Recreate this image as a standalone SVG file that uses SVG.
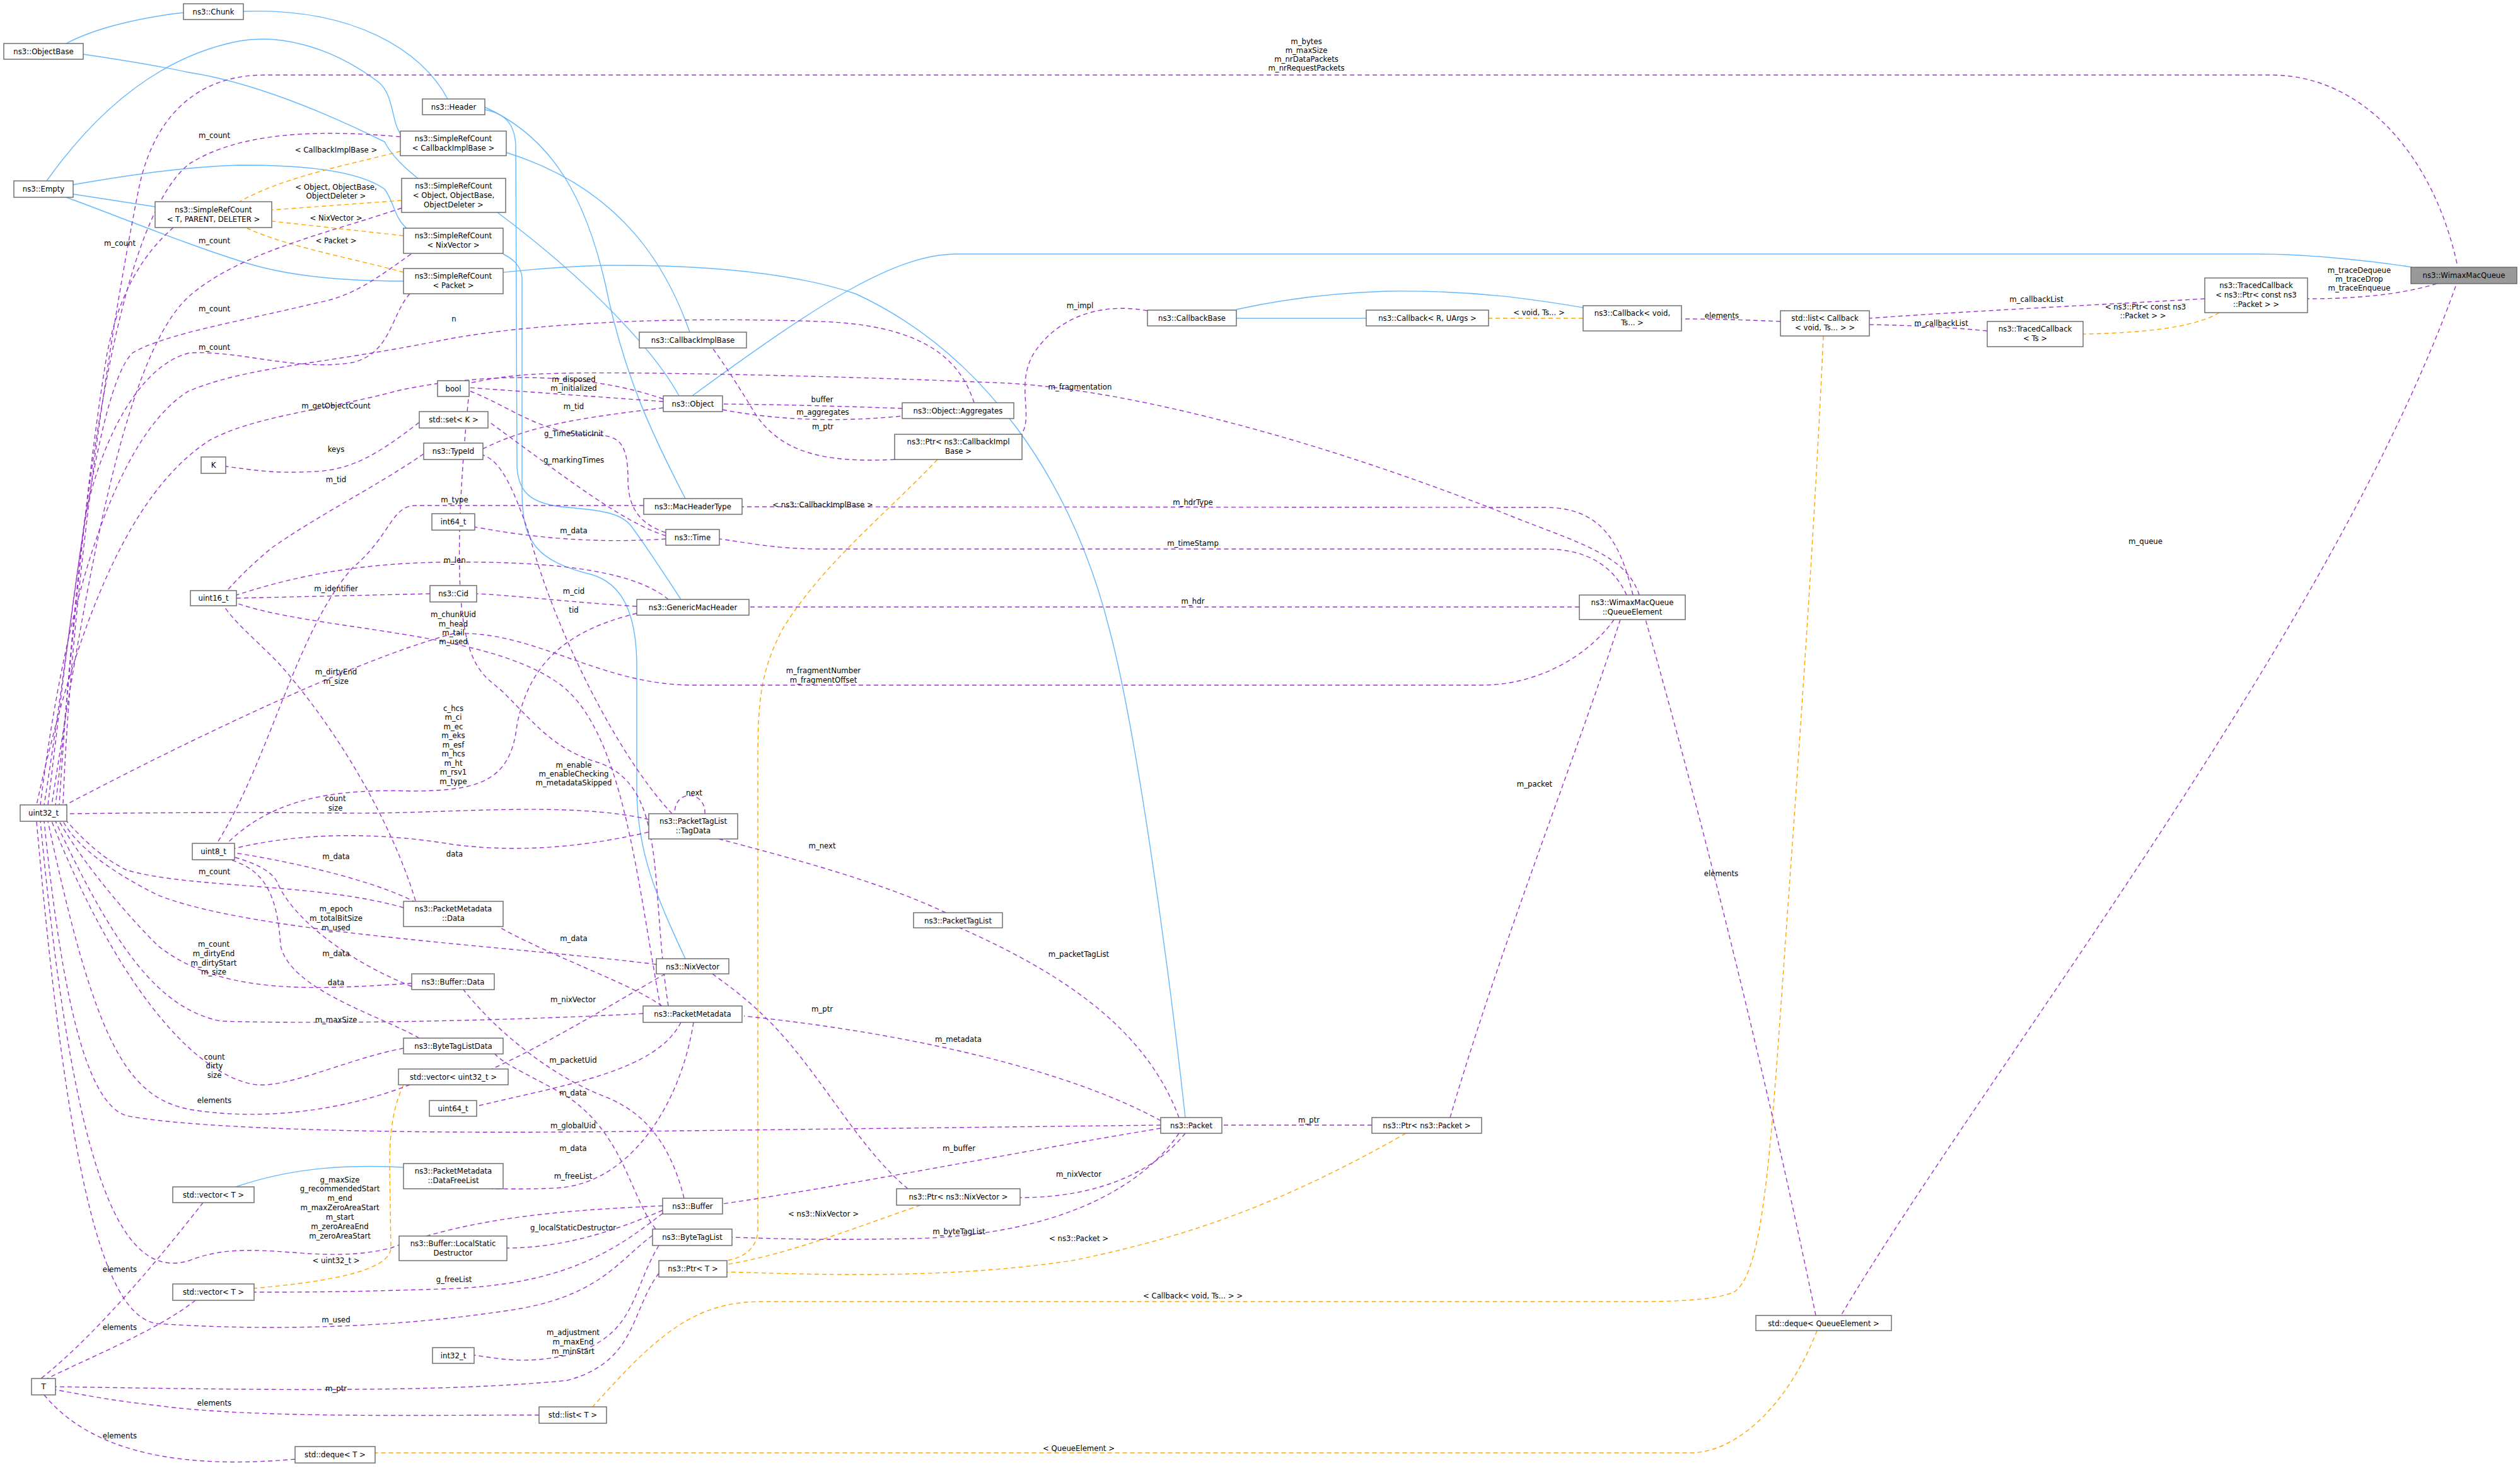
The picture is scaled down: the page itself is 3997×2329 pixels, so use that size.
<svg xmlns="http://www.w3.org/2000/svg" width="3997" height="2329" viewBox="0 0 3997 2329">
<style>
text{font-family:"DejaVu Sans Condensed","DejaVu Sans",sans-serif;font-size:13px;text-anchor:middle;fill:#000}
.n rect{fill:#fff;stroke:#666;stroke-width:1.4}
.n rect.g{fill:#999}
path{fill:none;stroke-width:1.4}
.m{stroke:#9a32cd;stroke-dasharray:7,5;marker-end:url(#am)}
.t{stroke:#ffa500;stroke-dasharray:7,5;marker-end:url(#at)}
.i{stroke:#63b8ff;marker-end:url(#ai)}
</style>
<defs>
<marker id="am" viewBox="0 0 10 10" refX="10" refY="5" markerWidth="12" markerHeight="12" markerUnits="userSpaceOnUse" orient="auto"><path d="M0,0L10,5L0,10z" fill="#9a32cd" stroke="none"/></marker>
<marker id="at" viewBox="0 0 10 10" refX="10" refY="5" markerWidth="12" markerHeight="12" markerUnits="userSpaceOnUse" orient="auto"><path d="M0,0L10,5L0,10z" fill="#ffa500" stroke="none"/></marker>
<marker id="ai" viewBox="0 0 10 10" refX="10" refY="5" markerWidth="12" markerHeight="12" markerUnits="userSpaceOnUse" orient="auto"><path d="M0,0L10,5L0,10z" fill="#63b8ff" stroke="none"/></marker>
</defs>
<g id="edges">
<!-- inheritance -->
<path class="i" d="M291,20 C220,28 150,45 105,69"/>
<path class="i" d="M710,157 C670,80 560,12 386,18"/>
<path class="i" d="M635,212 C620,190 625,150 600,130 C520,70 440,55 380,65 C250,90 150,180 74,287"/>
<path class="i" d="M663,283 C640,265 620,245 610,225 C520,180 400,130 300,115 C230,100 170,92 132,86"/>
<path class="i" d="M645,362 C625,345 625,320 610,300 C560,265 450,262 380,262 C280,265 180,282 116,293"/>
<path class="i" d="M246,328 L116,308"/>
<path class="i" d="M640,446 C560,446 470,440 400,420 C300,390 180,340 105,313"/>
<path class="i" d="M1094,527 C1060,430 990,300 803,242"/>
<path class="i" d="M1077,628 C1040,560 940,450 789,337"/>
<path class="i" d="M1087,1521 C1040,1420 1010,1350 1010,1250 L1010,1050 C1008,960 980,925 940,912 C850,890 828,860 828,780 L828,440 C826,420 812,410 798,403"/>
<path class="i" d="M1080,951 C1040,890 1020,860 1005,840 C990,815 960,810 900,805 C840,800 822,780 820,740 L818,230 C816,195 800,180 769,174"/>
<path class="i" d="M1087,791 C1040,700 990,600 960,450 C930,320 880,220 769,170"/>
<path class="i" d="M1880,1773 C1850,1500 1800,1150 1760,1000 C1700,760 1560,560 1357,466 C1250,430 1100,420 960,421 C880,423 840,428 799,432"/>
<path class="i" d="M3826,424 C3750,412 3650,403 3581,403 L1518,403 C1420,403 1300,480 1098,628"/>
<path class="i" d="M2167,505 L1961,505"/>
<path class="i" d="M2511,488 C2450,478 2350,460 2200,462 C2100,465 2020,478 1961,491"/>
<path class="i" d="M640,1852 C560,1848 470,1850 374,1883"/>
<!-- templates -->
<path class="t" d="M635,240 C560,260 450,280 380,320"/>
<path class="t" d="M637,318 L432,333"/>
<path class="t" d="M640,374 L432,351"/>
<path class="t" d="M640,432 C560,410 450,390 392,362"/>
<path class="t" d="M2511,505 L2361,505"/>
<path class="t" d="M3520,496 C3480,520 3400,528 3304,530"/>
<path class="t" d="M2892,533 C2880,800 2860,1100 2835,1450 C2810,1800 2800,2020 2750,2050 C2720,2063 2650,2065 2601,2065 L1208,2065 C1100,2065 1040,2120 940,2232"/>
<path class="t" d="M2882,2111 C2840,2220 2760,2305 2680,2305 L595,2305"/>
<path class="t" d="M1460,1912 C1350,1950 1250,1990 1153,2006"/>
<path class="t" d="M2230,1798 C2050,1900 1900,1960 1700,2000 C1500,2030 1300,2022 1153,2018"/>
<path class="t" d="M1487,729 C1400,820 1300,900 1240,1000 C1210,1060 1202,1100 1202,1200 L1202,1950 C1202,1980 1180,1995 1153,2000"/>
<path class="t" d="M640,1721 C622,1760 618,1800 618,1850 L620,1980 C618,2020 500,2035 403,2044"/>
<!-- members into uint32_t top -->
<path class="m" d="M3897,418 C3860,250 3750,119 3602,119 L420,119 C300,119 240,200 220,300 C160,600 110,1000 100,1277"/>
<path class="m" d="M635,217 C500,205 380,210 300,260 C200,340 130,700 94,1277"/>
<path class="m" d="M275,361 C230,400 190,460 170,560 C130,800 110,1100 88,1277"/>
<path class="m" d="M637,330 C520,370 380,400 300,470 C200,560 140,900 82,1277"/>
<path class="m" d="M652,403 C600,440 560,470 505,480 C380,510 260,530 210,560 C150,620 110,1000 76,1277"/>
<path class="m" d="M650,466 C620,500 620,560 560,575 C470,590 380,555 300,560 C220,580 160,700 135,820 C110,1000 90,1150 70,1277"/>
<path class="m" d="M1545,639 C1520,560 1450,515 1300,510 C1000,500 800,520 700,540 C500,580 400,580 300,620 C200,680 110,900 64,1277"/>
<path class="m" d="M1052,633 C900,580 720,600 630,620 C520,650 400,660 330,700 C240,760 140,900 58,1277"/>
<path class="m" d="M2560,983 C2520,1040 2440,1087 2350,1087 L1100,1087 C950,1087 850,1000 720,1005 C550,1050 250,1200 100,1279"/>
<path class="m" d="M1029,1300 C900,1270 700,1292 550,1290 C350,1288 200,1290 106,1291"/>
<!-- members into uint32_t bottom -->
<path class="m" d="M640,1440 C500,1400 300,1410 200,1380 C160,1360 130,1330 106,1303"/>
<path class="m" d="M1041,1530 C800,1500 400,1480 250,1420 C170,1380 120,1340 100,1303"/>
<path class="m" d="M653,1560 C500,1570 350,1580 250,1500 C180,1430 120,1350 94,1303"/>
<path class="m" d="M1020,1608 C800,1620 500,1625 350,1620 C250,1600 180,1500 88,1303"/>
<path class="m" d="M640,1663 C550,1680 450,1730 400,1720 C300,1700 180,1550 82,1303"/>
<path class="m" d="M650,1721 C550,1760 420,1780 300,1760 C200,1740 150,1650 76,1303"/>
<path class="m" d="M1841,1785 L1000,1795 C600,1800 300,1790 200,1770 C140,1750 100,1600 70,1303"/>
<path class="m" d="M1051,1913 C900,1920 750,1930 620,1980 C500,2010 400,1960 300,2000 C200,2030 120,1900 64,1303"/>
<path class="m" d="M1035,1960 C980,2000 950,2060 800,2080 C600,2110 400,2110 250,2100 C170,2090 110,1900 58,1303"/>
<!-- other members -->
<path class="m" d="M3865,450 C3800,470 3720,474 3660,474"/>
<path class="m" d="M3895,454 C3700,1000 3150,1700 2920,2087"/>
<path class="m" d="M3497,474 C3300,485 3100,495 2965,505"/>
<path class="m" d="M3152,525 C3080,518 3020,516 2965,515"/>
<path class="m" d="M2824,510 C2760,507 2710,506 2667,506"/>
<path class="m" d="M1820,493 C1750,480 1680,500 1640,560 C1610,610 1640,660 1620,689"/>
<path class="m" d="M1419,729 C1300,735 1240,715 1200,660 C1170,610 1150,580 1130,552"/>
<path class="m" d="M1146,650 C1250,670 1350,668 1431,660"/>
<path class="m" d="M1431,648 C1350,645 1250,642 1146,641"/>
<path class="m" d="M1052,637 L744,615"/>
<path class="m" d="M1052,647 C950,660 850,670 766,712"/>
<path class="m" d="M2600,944 C2580,880 2500,860 2400,820 C2100,700 1800,620 1600,608 C1300,595 1000,590 900,592 C820,593 780,600 744,608"/>
<path class="m" d="M2590,944 C2570,860 2540,805 2450,805 L1177,804"/>
<path class="m" d="M2580,944 C2560,900 2520,871 2450,871 L1300,871 C1230,871 1180,860 1141,855"/>
<path class="m" d="M2505,963 L1188,963"/>
<path class="m" d="M2570,983 C2500,1200 2380,1500 2300,1773"/>
<path class="m" d="M2880,2087 C2800,1700 2700,1300 2610,983"/>
<path class="m" d="M1056,845 C1010,830 996,800 996,760 C996,700 980,690 940,690 C860,690 800,640 744,620"/>
<path class="m" d="M1056,850 C990,830 900,760 774,668"/>
<path class="m" d="M1066,1291 C980,1200 880,1000 840,850 C810,760 790,730 766,722"/>
<path class="m" d="M665,670 C600,720 560,745 500,748 C430,752 400,745 358,740"/>
<path class="m" d="M672,720 C600,770 500,820 430,870 C400,895 380,915 360,937"/>
<path class="m" d="M1021,802 L660,802 C620,802 620,850 560,900 C470,1000 430,1200 344,1338"/>
<path class="m" d="M1056,855 C980,860 880,860 753,836"/>
<path class="m" d="M1060,951 C1000,900 850,890 700,892 C550,894 450,920 375,944"/>
<path class="m" d="M682,942 L375,949"/>
<path class="m" d="M1010,962 C900,955 820,945 756,942"/>
<path class="m" d="M1010,973 C900,1000 840,1050 820,1150 C810,1240 760,1255 650,1255 C500,1250 420,1280 360,1338"/>
<path class="m" d="M1050,1610 C1010,1400 990,1150 880,1080 C760,1000 500,1000 375,957"/>
<path class="m" d="M659,1429 C620,1300 530,1150 440,1050 C400,1010 370,985 355,961"/>
<path class="m" d="M1060,1596 C1030,1400 1060,1250 950,1210 C880,1190 850,1150 800,1100 C760,1060 700,1070 744,622"/>
<path class="m" d="M1029,1320 C900,1350 800,1350 720,1340 C600,1320 480,1320 372,1346"/>
<path class="m" d="M660,1432 C600,1400 480,1370 372,1353"/>
<path class="m" d="M653,1565 C540,1520 460,1450 440,1400 C430,1380 400,1368 372,1360"/>
<path class="m" d="M665,1647 C600,1610 460,1570 445,1500 C440,1420 420,1380 365,1364"/>
<path class="m" d="M1500,1448 C1400,1400 1250,1360 1140,1331"/>
<path class="m" d="M1118,1291 C1120,1255 1070,1250 1070,1291"/>
<path class="m" d="M1870,1773 C1820,1640 1700,1550 1520,1471"/>
<path class="m" d="M1841,1778 C1700,1700 1450,1640 1180,1612"/>
<path class="m" d="M1841,1790 C1600,1830 1350,1880 1146,1910"/>
<path class="m" d="M1880,1798 C1830,1860 1740,1900 1618,1900"/>
<path class="m" d="M1870,1798 C1800,1900 1650,1960 1450,1965 C1300,1968 1230,1965 1161,1963"/>
<path class="m" d="M2176,1785 L1938,1785"/>
<path class="m" d="M1440,1886 C1360,1820 1300,1700 1220,1620 C1180,1580 1150,1560 1130,1545"/>
<path class="m" d="M1055,1545 C960,1600 860,1660 780,1696"/>
<path class="m" d="M1080,1622 C1040,1700 900,1720 756,1755"/>
<path class="m" d="M1050,1596 C1000,1560 880,1520 790,1470"/>
<path class="m" d="M1100,1622 C1080,1750 1000,1880 880,1885 C830,1887 800,1886 780,1886"/>
<path class="m" d="M1085,1901 C1060,1800 1010,1760 960,1740 C880,1710 790,1640 735,1570"/>
<path class="m" d="M1051,1920 C960,1960 880,1980 804,1980"/>
<path class="m" d="M1051,1925 C980,1980 900,2040 700,2045 C550,2050 470,2050 403,2050"/>
<path class="m" d="M1040,1950 C1000,1900 990,1800 900,1740 C850,1710 800,1690 785,1672"/>
<path class="m" d="M1045,1976 C1000,2050 1010,2120 900,2150 C830,2165 790,2155 752,2150"/>
<path class="m" d="M1045,2020 C1000,2080 1010,2160 900,2190 C700,2210 400,2205 88,2200"/>
<path class="m" d="M855,2245 C650,2245 400,2250 250,2230 C160,2220 120,2210 88,2205"/>
<path class="m" d="M322,1908 C250,2000 150,2120 65,2187"/>
<path class="m" d="M310,2063 C250,2110 150,2150 75,2187"/>
<path class="m" d="M468,2315 C300,2330 150,2310 70,2213"/>
</g>
<g id="labels">
<text x="2072" y="70">m_bytes</text><text x="2072" y="84">m_maxSize</text><text x="2072" y="98">m_nrDataPackets</text><text x="2072" y="112">m_nrRequestPackets</text>
<text x="340" y="219">m_count</text>
<text x="533" y="242">&lt; CallbackImplBase &gt;</text>
<text x="533" y="301">&lt; Object, ObjectBase,</text><text x="533" y="315">ObjectDeleter &gt;</text>
<text x="533" y="350">&lt; NixVector &gt;</text>
<text x="190" y="390">m_count</text>
<text x="340" y="386">m_count</text>
<text x="533" y="386">&lt; Packet &gt;</text>
<text x="340" y="494">m_count</text>
<text x="720" y="510">n</text>
<text x="340" y="555">m_count</text>
<text x="533" y="648">m_getObjectCount</text>
<text x="910" y="606">m_disposed</text><text x="910" y="620">m_initialized</text>
<text x="910" y="649">m_tid</text>
<text x="910" y="692">g_TimeStaticInit</text>
<text x="910" y="734">g_markingTimes</text>
<text x="533" y="717">keys</text>
<text x="533" y="765">m_tid</text>
<text x="721" y="797">m_type</text>
<text x="910" y="846">m_data</text>
<text x="721" y="893">m_len</text>
<text x="533" y="938">m_identifier</text>
<text x="910" y="942">m_cid</text>
<text x="910" y="972">tid</text>
<text x="719" y="979">m_chunkUid</text><text x="719" y="994">m_head</text><text x="719" y="1008">m_tail</text><text x="719" y="1022">m_used</text>
<text x="533" y="1070">m_dirtyEnd</text><text x="533" y="1085">m_size</text>
<text x="719" y="1128">c_hcs</text><text x="719" y="1142">m_ci</text><text x="719" y="1157">m_ec</text><text x="719" y="1171">m_eks</text><text x="719" y="1186">m_esf</text><text x="719" y="1200">m_hcs</text><text x="719" y="1215">m_ht</text><text x="719" y="1229">m_rsv1</text><text x="719" y="1244">m_type</text>
<text x="910" y="1218">m_enable</text><text x="910" y="1232">m_enableChecking</text><text x="910" y="1246">m_metadataSkipped</text>
<text x="532" y="1271">count</text><text x="532" y="1286">size</text>
<text x="721" y="1359">data</text>
<text x="533" y="1363">m_data</text>
<text x="340" y="1387">m_count</text>
<text x="533" y="1446">m_epoch</text><text x="533" y="1461">m_totalBitSize</text><text x="533" y="1476">m_used</text>
<text x="910" y="1493">m_data</text>
<text x="339" y="1502">m_count</text><text x="339" y="1517">m_dirtyEnd</text><text x="339" y="1532">m_dirtyStart</text><text x="339" y="1546">m_size</text>
<text x="533" y="1517">m_data</text>
<text x="533" y="1563">data</text>
<text x="909" y="1590">m_nixVector</text>
<text x="533" y="1622">m_maxSize</text>
<text x="340" y="1681">count</text><text x="340" y="1695">dirty</text><text x="340" y="1710">size</text>
<text x="909" y="1686">m_packetUid</text>
<text x="909" y="1738">m_data</text>
<text x="340" y="1750">elements</text>
<text x="909" y="1790">m_globalUid</text>
<text x="909" y="1826">m_data</text>
<text x="909" y="1870">m_freeList</text>
<text x="539" y="1876">g_maxSize</text><text x="539" y="1890">g_recommendedStart</text><text x="539" y="1905">m_end</text><text x="539" y="1920">m_maxZeroAreaStart</text><text x="539" y="1935">m_start</text><text x="539" y="1950">m_zeroAreaEnd</text><text x="539" y="1965">m_zeroAreaStart</text>
<text x="909" y="1952">g_localStaticDestructor</text>
<text x="190" y="2018">elements</text>
<text x="533" y="2004">&lt; uint32_t &gt;</text>
<text x="720" y="2034">g_freeList</text>
<text x="533" y="2098">m_used</text>
<text x="190" y="2110">elements</text>
<text x="909" y="2118">m_adjustment</text><text x="909" y="2133">m_maxEnd</text><text x="909" y="2148">m_minStart</text>
<text x="533" y="2207">m_ptr</text>
<text x="340" y="2230">elements</text>
<text x="190" y="2282">elements</text>
<text x="1304" y="638">buffer</text>
<text x="1305" y="658">m_aggregates</text>
<text x="1305" y="681">m_ptr</text>
<text x="1713" y="489">m_impl</text>
<text x="1713" y="618">m_fragmentation</text>
<text x="1305" y="805">&lt; ns3::CallbackImplBase &gt;</text>
<text x="1892" y="801">m_hdrType</text>
<text x="1892" y="866">m_timeStamp</text>
<text x="1892" y="958">m_hdr</text>
<text x="1306" y="1068">m_fragmentNumber</text><text x="1306" y="1083">m_fragmentOffset</text>
<text x="1101" y="1262">next</text>
<text x="1304" y="1346">m_next</text>
<text x="1711" y="1518">m_packetTagList</text>
<text x="1304" y="1605">m_ptr</text>
<text x="1520" y="1653">m_metadata</text>
<text x="2076" y="1781">m_ptr</text>
<text x="1521" y="1826">m_buffer</text>
<text x="1711" y="1867">m_nixVector</text>
<text x="1306" y="1930">&lt; ns3::NixVector &gt;</text>
<text x="1521" y="1958">m_byteTagList</text>
<text x="1711" y="1969">&lt; ns3::Packet &gt;</text>
<text x="1892" y="2060">&lt; Callback&lt; void, Ts... &gt; &gt;</text>
<text x="1711" y="2302">&lt; QueueElement &gt;</text>
<text x="2434" y="1248">m_packet</text>
<text x="2730" y="1390">elements</text>
<text x="3403" y="863">m_queue</text>
<text x="2441" y="500">&lt; void, Ts... &gt;</text>
<text x="2731" y="505">elements</text>
<text x="3079" y="517">m_callbackList</text>
<text x="3230" y="479">m_callbackList</text>
<text x="3403" y="491">&lt; ns3::Ptr&lt; const ns3</text><text x="3399" y="505">::Packet &gt; &gt;</text>
<text x="3742" y="433">m_traceDequeue</text><text x="3742" y="447">m_traceDrop</text><text x="3742" y="461">m_traceEnqueue</text>
</g>
<g id="Chunk" class="n"><rect x="291" y="6" width="95" height="25"/><text x="338.5" y="23">ns3::Chunk</text></g>
<g id="ObjectBase" class="n"><rect x="6" y="69" width="126" height="25"/><text x="69" y="86">ns3::ObjectBase</text></g>
<g id="Header" class="n"><rect x="670" y="157" width="99" height="25"/><text x="719.5" y="174">ns3::Header</text></g>
<g id="SRC_CIB" class="n"><rect x="635" y="208" width="168" height="39"/><text x="719" y="224">ns3::SimpleRefCount</text><text x="719" y="239">&lt; CallbackImplBase &gt;</text></g>
<g id="Empty" class="n"><rect x="22" y="287" width="94" height="26"/><text x="69" y="304">ns3::Empty</text></g>
<g id="SRC_TPD" class="n"><rect x="246" y="320" width="185" height="41"/><text x="338.5" y="337">ns3::SimpleRefCount</text><text x="338.5" y="352">&lt; T, PARENT, DELETER &gt;</text></g>
<g id="SRC_Obj" class="n"><rect x="637" y="283" width="165" height="54"/><text x="719.5" y="299">ns3::SimpleRefCount</text><text x="719.5" y="314">&lt; Object, ObjectBase,</text><text x="719.5" y="329">ObjectDeleter &gt;</text></g>
<g id="SRC_Nix" class="n"><rect x="640" y="362" width="158" height="40"/><text x="719" y="378">ns3::SimpleRefCount</text><text x="719" y="393">&lt; NixVector &gt;</text></g>
<g id="SRC_Pkt" class="n"><rect x="640" y="426" width="158" height="40"/><text x="719" y="442">ns3::SimpleRefCount</text><text x="719" y="457">&lt; Packet &gt;</text></g>
<g id="CallbackImplBase" class="n"><rect x="1014" y="527" width="170" height="25"/><text x="1099" y="544">ns3::CallbackImplBase</text></g>
<g id="Object" class="n"><rect x="1052" y="628" width="94" height="25"/><text x="1099" y="645">ns3::Object</text></g>
<g id="Aggregates" class="n"><rect x="1431" y="639" width="177" height="25"/><text x="1519.5" y="656">ns3::Object::Aggregates</text></g>
<g id="PtrCIB" class="n"><rect x="1419" y="689" width="202" height="40"/><text x="1520" y="705">ns3::Ptr&lt; ns3::CallbackImpl</text><text x="1520" y="720">Base &gt;</text></g>
<g id="CallbackBase" class="n"><rect x="1820" y="492" width="141" height="25"/><text x="1890.5" y="509">ns3::CallbackBase</text></g>
<g id="CallbackRU" class="n"><rect x="2167" y="492" width="194" height="25"/><text x="2264" y="509">ns3::Callback&lt; R, UArgs &gt;</text></g>
<g id="CallbackVoid" class="n"><rect x="2511" y="485" width="156" height="40"/><text x="2589" y="501">ns3::Callback&lt; void,</text><text x="2589" y="516">Ts... &gt;</text></g>
<g id="ListCallback" class="n"><rect x="2824" y="493" width="141" height="40"/><text x="2894.5" y="509">std::list&lt; Callback</text><text x="2894.5" y="524">&lt; void, Ts... &gt; &gt;</text></g>
<g id="TracedTs" class="n"><rect x="3152" y="510" width="152" height="40"/><text x="3228" y="526">ns3::TracedCallback</text><text x="3228" y="541">&lt; Ts &gt;</text></g>
<g id="TracedPtr" class="n"><rect x="3497" y="441" width="163" height="55"/><text x="3578.5" y="457">ns3::TracedCallback</text><text x="3578.5" y="472">&lt; ns3::Ptr&lt; const ns3</text><text x="3578.5" y="487">::Packet &gt; &gt;</text></g>
<g id="WimaxMacQueue" class="n"><rect class="g" x="3824" y="424" width="168" height="26"/><text x="3908" y="441">ns3::WimaxMacQueue</text></g>
<g id="bool" class="n"><rect x="694" y="604" width="50" height="25"/><text x="719" y="621">bool</text></g>
<g id="setK" class="n"><rect x="665" y="653" width="109" height="26"/><text x="719.5" y="670">std::set&lt; K &gt;</text></g>
<g id="TypeId" class="n"><rect x="672" y="703" width="94" height="26"/><text x="719" y="720">ns3::TypeId</text></g>
<g id="K" class="n"><rect x="319" y="725" width="39" height="26"/><text x="338.5" y="742">K</text></g>
<g id="MacHeaderType" class="n"><rect x="1021" y="791" width="156" height="25"/><text x="1099" y="808">ns3::MacHeaderType</text></g>
<g id="int64" class="n"><rect x="685" y="815" width="68" height="26"/><text x="719" y="832">int64_t</text></g>
<g id="Time" class="n"><rect x="1056" y="840" width="85" height="25"/><text x="1098.5" y="857">ns3::Time</text></g>
<g id="Cid" class="n"><rect x="682" y="929" width="74" height="26"/><text x="719" y="946">ns3::Cid</text></g>
<g id="uint16" class="n"><rect x="302" y="937" width="73" height="24"/><text x="338.5" y="953">uint16_t</text></g>
<g id="GenericMacHeader" class="n"><rect x="1010" y="951" width="178" height="25"/><text x="1099" y="968">ns3::GenericMacHeader</text></g>
<g id="QueueElement" class="n"><rect x="2505" y="944" width="168" height="39"/><text x="2589" y="960">ns3::WimaxMacQueue</text><text x="2589" y="975">::QueueElement</text></g>
<g id="uint32" class="n"><rect x="32" y="1277" width="74" height="26"/><text x="69" y="1294">uint32_t</text></g>
<g id="TagData" class="n"><rect x="1029" y="1291" width="141" height="40"/><text x="1099.5" y="1307">ns3::PacketTagList</text><text x="1099.5" y="1322">::TagData</text></g>
<g id="uint8" class="n"><rect x="305" y="1338" width="67" height="26"/><text x="338.5" y="1355">uint8_t</text></g>
<g id="PMData" class="n"><rect x="640" y="1430" width="158" height="40"/><text x="719" y="1446">ns3::PacketMetadata</text><text x="719" y="1461">::Data</text></g>
<g id="PacketTagList" class="n"><rect x="1449" y="1448" width="141" height="24"/><text x="1519.5" y="1465">ns3::PacketTagList</text></g>
<g id="NixVector" class="n"><rect x="1041" y="1521" width="115" height="24"/><text x="1098.5" y="1538">ns3::NixVector</text></g>
<g id="BufferData" class="n"><rect x="653" y="1545" width="131" height="25"/><text x="718.5" y="1562">ns3::Buffer::Data</text></g>
<g id="PacketMetadata" class="n"><rect x="1020" y="1596" width="157" height="26"/><text x="1098.5" y="1613">ns3::PacketMetadata</text></g>
<g id="ByteTagListData" class="n"><rect x="640" y="1647" width="158" height="25"/><text x="719" y="1664">ns3::ByteTagListData</text></g>
<g id="vecU32" class="n"><rect x="632" y="1696" width="174" height="25"/><text x="719" y="1713">std::vector&lt; uint32_t &gt;</text></g>
<g id="uint64" class="n"><rect x="681" y="1746" width="75" height="25"/><text x="718.5" y="1763">uint64_t</text></g>
<g id="Packet" class="n"><rect x="1841" y="1773" width="97" height="25"/><text x="1889.5" y="1790">ns3::Packet</text></g>
<g id="PtrPacket" class="n"><rect x="2176" y="1773" width="174" height="25"/><text x="2263" y="1790">ns3::Ptr&lt; ns3::Packet &gt;</text></g>
<g id="DataFreeList" class="n"><rect x="640" y="1846" width="158" height="40"/><text x="719" y="1862">ns3::PacketMetadata</text><text x="719" y="1877">::DataFreeList</text></g>
<g id="vecT1" class="n"><rect x="274" y="1883" width="129" height="25"/><text x="338.5" y="1900">std::vector&lt; T &gt;</text></g>
<g id="PtrNix" class="n"><rect x="1422" y="1886" width="196" height="26"/><text x="1520" y="1903">ns3::Ptr&lt; ns3::NixVector &gt;</text></g>
<g id="Buffer" class="n"><rect x="1051" y="1901" width="95" height="25"/><text x="1098.5" y="1918">ns3::Buffer</text></g>
<g id="LocalStatic" class="n"><rect x="633" y="1961" width="171" height="39"/><text x="718.5" y="1977">ns3::Buffer::LocalStatic</text><text x="718.5" y="1992">Destructor</text></g>
<g id="ByteTagList" class="n"><rect x="1035" y="1950" width="126" height="26"/><text x="1098" y="1967">ns3::ByteTagList</text></g>
<g id="PtrT" class="n"><rect x="1045" y="2000" width="108" height="26"/><text x="1099" y="2017">ns3::Ptr&lt; T &gt;</text></g>
<g id="vecT2" class="n"><rect x="274" y="2037" width="129" height="26"/><text x="338.5" y="2054">std::vector&lt; T &gt;</text></g>
<g id="dequeQE" class="n"><rect x="2785" y="2087" width="215" height="24"/><text x="2892.5" y="2104">std::deque&lt; QueueElement &gt;</text></g>
<g id="int32" class="n"><rect x="686" y="2138" width="66" height="25"/><text x="719" y="2155">int32_t</text></g>
<g id="T" class="n"><rect x="50" y="2187" width="38" height="26"/><text x="69" y="2204">T</text></g>
<g id="listT" class="n"><rect x="855" y="2232" width="107" height="26"/><text x="908.5" y="2249">std::list&lt; T &gt;</text></g>
<g id="dequeT" class="n"><rect x="468" y="2295" width="127" height="26"/><text x="531.5" y="2312">std::deque&lt; T &gt;</text></g>
</svg>
